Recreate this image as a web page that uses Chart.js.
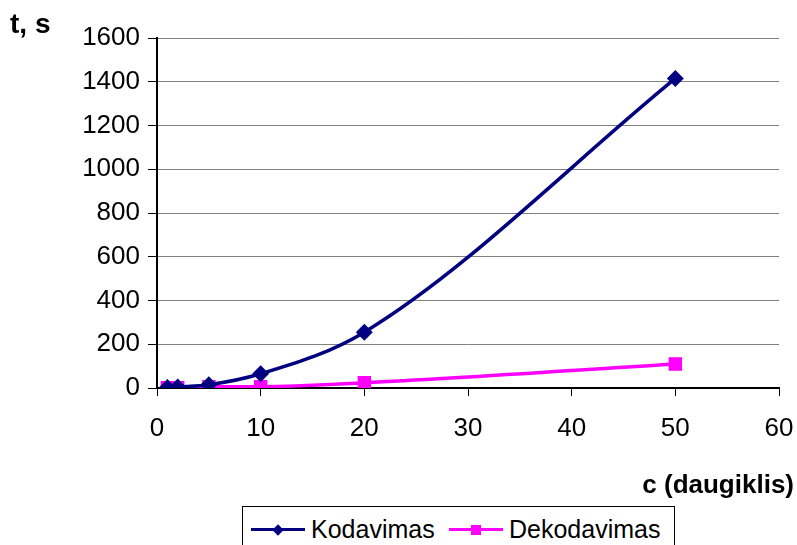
<!DOCTYPE html>
<html>
<head>
<meta charset="utf-8">
<script src="https://cdn.jsdelivr.net/npm/chart.js@4/dist/chart.umd.min.js"></script>
<style>
  body { margin: 0; background: #fff; }
  #wrap { position: relative; width: 797px; height: 545px; overflow: hidden; }
  #legenda {
    position: absolute; left: 242px; top: 506px; width: 433px; height: 50px;
    border: 1px solid #000; box-sizing: border-box; background: #fff;
    font-family: "Liberation Sans", Arial, sans-serif; font-size: 25px; color: #000;
  }
  .item { position: absolute; top: 7px; height: 30px; line-height: 30px; white-space: nowrap; }
  .linija { position: absolute; top: 14px; height: 3px; width: 54px; }
  .zenklas { position: absolute; }
  .tekstas { position: absolute; left: 60px; top: 0; }
</style>
</head>
<body>
<div id="wrap">
  <canvas id="grafikas" width="797" height="545"></canvas>
  <div id="legenda"></div>
</div>
<script>
  // c (daugiklis) reiksmes ir laikai sekundemis
  var daugiklis = [1, 2, 5, 10, 20, 50];
  var kodavimas = [2, 5, 15, 65, 255, 1415];
  var dekodavimas = [1, 1, 6, 6, 24, 110];

  var xTicks = [0, 10, 20, 30, 40, 50, 60];
  var yTicks = [0, 200, 400, 600, 800, 1000, 1200, 1400, 1600];

  var serijos = [
    { pav: "Kodavimas", y: kodavimas, spalva: "#000080", forma: "rectRot", r: 6 },
    { pav: "Dekodavimas", y: dekodavimas, spalva: "#FF00FF", forma: "rect", r: 7 }
  ];

  function taskai(ys) {
    var t = [];
    for (var i = 0; i < daugiklis.length; i++) {
      t.push({ x: daugiklis[i], y: ys[i] });
    }
    return t;
  }

  var srift = "'Liberation Sans', Arial, sans-serif";

  // asiu pavadinimai
  var uzrasai = {
    id: "uzrasai",
    afterDraw: function(chart) {
      var ctx = chart.ctx;
      ctx.save();
      ctx.fillStyle = "#000";
      ctx.font = "bold 28px " + srift;
      ctx.textBaseline = "middle";
      ctx.textAlign = "left";
      ctx.fillText("t, s", 10, 25);
      ctx.font = "bold 26px " + srift;
      ctx.textAlign = "right";
      ctx.fillText("c (daugiklis)", 794, 486);
      ctx.restore();
    }
  };

  var mChart = new Chart(document.getElementById("grafikas"), {
    type: "line",
    data: {
      datasets: serijos.map(function(s) {
        return {
          label: s.pav,
          data: taskai(s.y),
          borderColor: s.spalva,
          backgroundColor: s.spalva,
          borderWidth: 3.5,
          pointStyle: s.forma,
          pointRadius: s.r,
          pointHoverRadius: s.r,
          cubicInterpolationMode: "monotone",
          fill: false
        };
      })
    },
    options: {
      responsive: false,
      animation: false,
      devicePixelRatio: 1,
      layout: { padding: { left: 0, right: 18, top: 38, bottom: 97 } },
      plugins: {
        legend: { display: false },
        tooltip: { enabled: false }
      },
      scales: {
        x: {
          type: "linear",
          min: 0,
          max: 60,
          afterBuildTicks: function(scale) {
            scale.ticks = xTicks.map(function(v) { return { value: v }; });
          },
          afterFit: function(scale) {
            scale.height = 60;
            scale.paddingRight = 0;
            scale.paddingLeft = 0;
          },
          grid: { drawOnChartArea: false, color: "#000", tickColor: "#000", tickLength: 8, tickWidth: 1 },
          border: { color: "#000", width: 2 },
          ticks: {
            color: "#000", padding: 17, maxRotation: 0,
            font: { family: srift, size: 26 },
            callback: function(v) { return String(v); }
          }
        },
        y: {
          min: 0,
          max: 1600,
          afterBuildTicks: function(scale) {
            scale.ticks = yTicks.map(function(v) { return { value: v }; });
          },
          afterFit: function(scale) { scale.width = 157; },
          grid: { color: "#808080", tickColor: "#000", tickLength: 9, lineWidth: 1 },
          border: { color: "#000", width: 2 },
          ticks: {
            color: "#000", padding: 8,
            font: { family: srift, size: 26 },
            callback: function(v) { return String(v); }
          }
        }
      }
    },
    plugins: [uzrasai]
  });

  // legenda su remeliu
  var leg = document.getElementById("legenda");
  var pozicijos = [8, 206];
  serijos.forEach(function(s, i) {
    var el = document.createElement("div");
    el.className = "item";
    el.style.left = pozicijos[i] + "px";
    var lin = document.createElement("div");
    lin.className = "linija";
    lin.style.left = "0px";
    lin.style.background = s.spalva;
    var zn = document.createElement("div");
    zn.className = "zenklas";
    zn.style.background = s.spalva;
    if (s.forma == "rectRot") {
      zn.style.width = "8px"; zn.style.height = "8px";
      zn.style.left = "23px"; zn.style.top = "11.5px";
      zn.style.transform = "rotate(45deg)";
    } else {
      zn.style.width = "10px"; zn.style.height = "10px";
      zn.style.left = "22px"; zn.style.top = "10.5px";
    }
    var tx = document.createElement("span");
    tx.className = "tekstas";
    tx.textContent = s.pav;
    el.appendChild(lin);
    el.appendChild(zn);
    el.appendChild(tx);
    leg.appendChild(el);
  });
</script>
</body>
</html>
